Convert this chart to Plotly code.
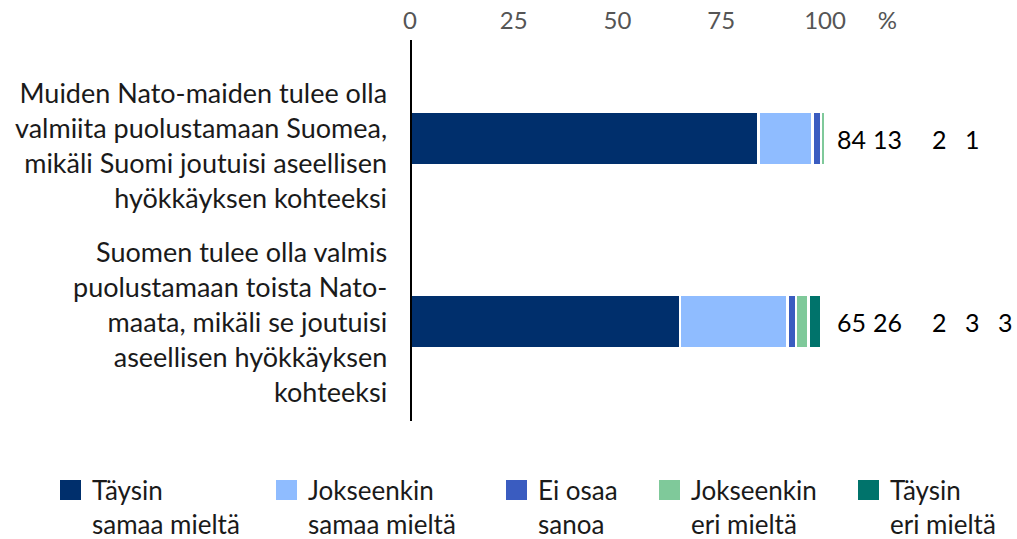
import plotly.graph_objects as go

categories = [
    "Muiden Nato-maiden tulee olla<br>valmiita puolustamaan Suomea,<br>mikäli Suomi joutuisi aseellisen<br>hyökkäyksen kohteeksi",
    "Suomen tulee olla valmis<br>puolustamaan toista Nato-<br>maata, mikäli se joutuisi<br>aseellisen hyökkäyksen<br>kohteeksi",
]
series_names = ["Täysin<br>samaa mieltä", "Jokseenkin<br>samaa mieltä", "Ei osaa<br>sanoa", "Jokseenkin<br>eri mieltä", "Täysin<br>eri mieltä"]
values = [
    [84, 65],
    [13, 26],
    [2, 2],
    [1, 3],
    [0, 3],
]
colors = ["#002f6c", "#8fbcff", "#3a5cc0", "#7fc99a", "#00736b"]
label_columns = [106.5, 115, 127.5, 135.5, 143.5]
tick_vals = [0, 25, 50, 75, 100, 115]
tick_text = ["0", "25", "50", "75", "100", "%"]
legend_left_px = [60, 276, 506, 659, 858]
category_yshift = [-6, 0]

FONT = "Lato"

# layout geometry (body margin is removed, so page pixels = figure pixels)
OFF = 0
ML, MT, W, H = 410, 47, 607, 366
FIG_W, FIG_H = 1017, 539


def px_x(sx):
    return (sx - OFF - ML) / W


def px_y(sy):
    return 1 - (sy - OFF - MT) / H


fig = go.Figure()
for name, vals, col in zip(series_names, values, colors):
    fig.add_trace(go.Bar(
        y=categories, x=vals, name=name.replace("<br>", " "), orientation="h",
        marker=dict(color=col, line=dict(color="white", width=2.5)),
        width=0.29, hoverinfo="x+name", showlegend=False,
    ))

annotations = []
for ci, cat in enumerate(categories):
    annotations.append(dict(
        x=px_x(389), y=cat, xref="paper", yref="y", text=cat,
        showarrow=False, xanchor="right", yanchor="middle", align="right",
        yshift=category_yshift[ci],
        font=dict(family=FONT, size=27, color="#1a1a1a"),
    ))
    for si, vals in enumerate(values):
        v = vals[ci]
        if v == 0:
            continue
        annotations.append(dict(
            x=label_columns[si], y=cat, xref="x", yref="y", text=str(v),
            showarrow=False, xanchor="center", yanchor="middle",
            font=dict(family=FONT, size=25, color="#000000"),
        ))

shapes = [dict(type="line", xref="x", yref="paper", x0=0, x1=0,
               y0=px_y(421), y1=px_y(40), line=dict(color="black", width=4))]

# manual legend
for name, col, lx in zip(series_names, colors, legend_left_px):
    shapes.append(dict(type="rect", xref="paper", yref="paper",
                       x0=px_x(lx), x1=px_x(lx + 21), y0=px_y(500), y1=px_y(480),
                       fillcolor=col, line=dict(width=0)))
    annotations.append(dict(
        x=px_x(lx + 30), y=px_y(472), xref="paper", yref="paper", text=name,
        showarrow=False, xanchor="left", yanchor="top", align="left",
        font=dict(family=FONT, size=26, color="#1a1a1a"),
    ))

fig.update_layout(
    width=FIG_W, height=FIG_H,
    margin=dict(l=ML, r=FIG_W - ML - W, t=MT, b=FIG_H - MT - H),
    barmode="stack",
    plot_bgcolor="white", paper_bgcolor="white",
    font=dict(family=FONT, size=25, color="#1a1a1a"),
    xaxis=dict(
        range=[0, W / 4.15], side="top", tickvals=tick_vals, ticktext=tick_text,
        showgrid=False, zeroline=False, showline=False, automargin=False,
        ticks="outside", ticklen=7, tickcolor="rgba(0,0,0,0)",
        tickfont=dict(family=FONT, size=24, color="#555555"),
    ),
    yaxis=dict(
        autorange="reversed", showgrid=False, zeroline=False, showline=False,
        automargin=False, showticklabels=False,
    ),
    showlegend=False,
    annotations=annotations,
    shapes=shapes,
)

fig.write_html(
    "out.html",
    config={"displayModeBar": False},
    post_script="document.body.style.margin='0';document.body.style.overflow='hidden';",
)
